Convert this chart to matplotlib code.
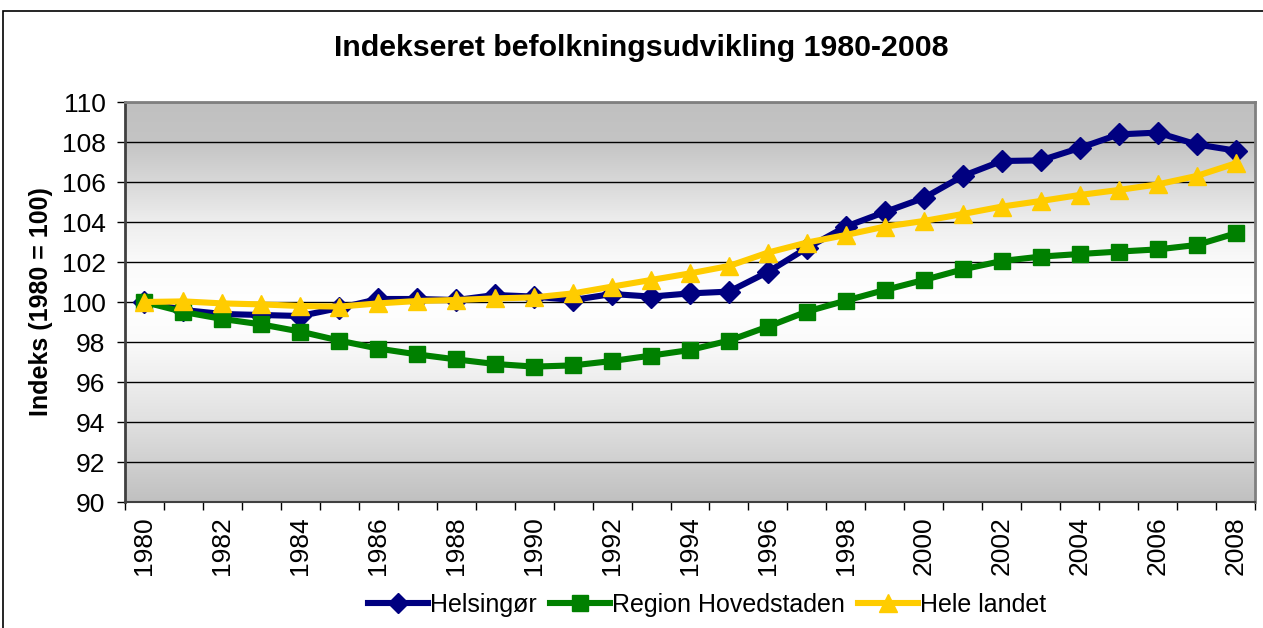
import numpy as np
import matplotlib
matplotlib.use("Agg")
import matplotlib.pyplot as plt
from matplotlib.patches import Rectangle

plt.rcParams['font.family'] = ['Liberation Sans', 'DejaVu Sans']

years = list(range(1980, 2009))
helsingor = [100.0, 99.6, 99.4, 99.35, 99.3, 99.7, 100.15, 100.15, 100.1, 100.35,
             100.27, 100.1, 100.4, 100.27, 100.43, 100.52, 101.5, 102.7, 103.77, 104.5,
             105.2, 106.3, 107.05, 107.08, 107.7, 108.38, 108.47, 107.88, 107.57]
region_hovedstaden = [100.0, 99.5, 99.15, 98.88, 98.52, 98.07, 97.67, 97.38, 97.13, 96.9,
                      96.77, 96.83, 97.05, 97.32, 97.6, 98.07, 98.77, 99.52, 100.07, 100.6,
                      101.1, 101.63, 102.05, 102.27, 102.4, 102.52, 102.63, 102.85, 103.43]
hele_landet = [100.0, 100.03, 99.93, 99.88, 99.8, 99.77, 99.93, 100.05, 100.1, 100.18,
               100.23, 100.43, 100.77, 101.1, 101.43, 101.8, 102.47, 102.97, 103.35, 103.77,
               104.05, 104.4, 104.77, 105.05, 105.35, 105.6, 105.88, 106.3, 106.93]
series_names = ['Helsingør', 'Region Hovedstaden', 'Hele landet']
title = 'Indekseret befolkningsudvikling 1980-2008'
ylabel = 'Indeks (1980 = 100)'

W, H = 1263, 628
fig = plt.figure(figsize=(W / 100, H / 100), dpi=100)
ax = fig.add_axes([125 / W, 1 - 502 / H, (1255 - 125) / W, (502 - 102) / H])

# outer chart frame
fig.patches.append(Rectangle((3 / W, -0.1), 1.2, 1 - 11 / H + 0.1, transform=fig.transFigure,
                             fill=False, edgecolor='black', linewidth=1.2))

x = np.arange(len(years))
ax.set_xlim(-0.5, len(years) - 0.5)
ax.set_ylim(90, 110)

# gradient background (gray - white - gray)
stops_v = [90, 94, 98, 100, 102, 104, 106, 108, 110]
stops_c = [0xc0, 0xe0, 0xfa, 0xff, 0xfa, 0xee, 0xd8, 0xc4, 0xc0]
vv = np.linspace(90, 110, 400)
gg = np.interp(vv, stops_v, stops_c) / 255.0
img = np.dstack([gg, gg, gg]).reshape(400, 1, 3)
ax.imshow(img, extent=[-0.5, len(years) - 0.5, 90, 110], origin='lower', aspect='auto',
          zorder=0, interpolation='bilinear')

ax.set_yticks(np.arange(90, 111, 2))
ax.yaxis.grid(True, color='black', linewidth=1.0, zorder=1)
ax.set_axisbelow(True)

lw = 4.4
ax.plot(x, helsingor, color='#000080', linewidth=lw, marker='D', markersize=11,
        label=series_names[0], zorder=3)
ax.plot(x, region_hovedstaden, color='#008000', linewidth=lw, marker='s', markersize=12,
        label=series_names[1], zorder=3)
ax.plot(x, hele_landet, color='#FFCC00', linewidth=lw, marker='^', markersize=13,
        label=series_names[2], zorder=4)

# x ticks: marks at category boundaries, labels every two years
ax.set_xticks(np.arange(-0.5, len(years), 1.0), minor=True)
ax.set_xticks(x[::2])
ax.set_xticklabels([str(y) for y in years[::2]], rotation=90, fontsize=19)
ax.tick_params(axis='x', which='major', length=0, pad=10)
ax.tick_params(axis='x', which='minor', length=6, width=1, color='black', direction='out')
ax.tick_params(axis='y', length=6, width=1, labelsize=19, pad=8)

for s in ['top', 'right']:
    ax.spines[s].set_color('#808080')
    ax.spines[s].set_linewidth(2)
ax.spines['left'].set_color('#404040')
ax.spines['left'].set_linewidth(2)
ax.spines['bottom'].set_color('#404040')
ax.spines['bottom'].set_linewidth(1.5)

ax.set_ylabel(ylabel, fontsize=18, fontweight='bold', labelpad=6)
fig.text(641 / W, 1 - 48 / H, title, ha='center', va='center',
         fontsize=21.8, fontweight='bold')

leg = fig.legend(loc='center', bbox_to_anchor=(707 / W, 1 - 605 / H), ncol=3, frameon=False,
                 fontsize=18, handlelength=2.4, handletextpad=0.1, columnspacing=0.5,
                 markerscale=0.95)

fig.savefig('out.png', dpi=100)
